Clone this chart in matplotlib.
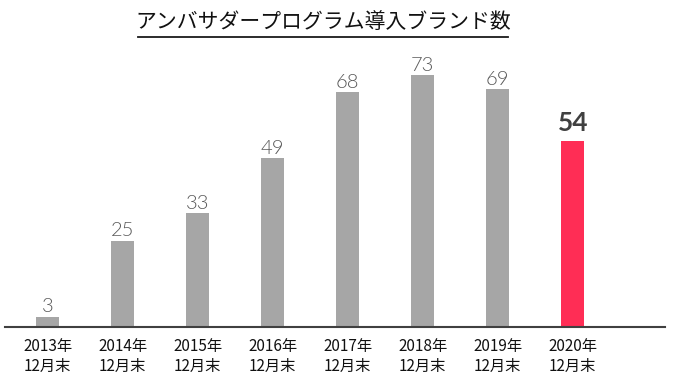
import matplotlib.pyplot as plt

plt.rcParams['font.family'] = ['Noto Sans CJK JP', 'DejaVu Sans']

# データ
years = ['2013年', '2014年', '2015年', '2016年', '2017年', '2018年', '2019年', '2020年']
brands = [3, 25, 33, 49, 68, 73, 69, 54]
colors = ['#A6A6A6'] * 7 + ['#FF2D55']

W, H = 673, 386
fig = plt.figure(figsize=(W / 100, H / 100), dpi=100)
ax = fig.add_axes([5 / W, (H - 327) / H, 660 / W, (327 - 45) / H])

x = list(range(len(years)))
ax.bar(x, brands, width=0.31, color=colors, zorder=2)

ax.set_xlim(-0.567, 8.23)
ax.set_ylim(0, (327 - 45) / 3.45)

# 値ラベル
for i, v in enumerate(brands):
    if i == len(brands) - 1:
        ax.annotate(str(v), (i, v), xytext=(0, 4), textcoords='offset points',
                    ha='center', va='bottom', fontsize=19, fontweight='bold',
                    color='#404040', family=['Lato', 'DejaVu Sans'])
    else:
        ax.annotate(str(v), (i, v), xytext=(0, 1), textcoords='offset points',
                    ha='center', va='bottom', fontsize=14.5, fontweight=300,
                    color='#595959', family=['Lato', 'DejaVu Sans'])

for s in ['top', 'right', 'left']:
    ax.spines[s].set_visible(False)
ax.spines['bottom'].set_color('#404040')
ax.spines['bottom'].set_linewidth(1.5)
ax.set_yticks([])
ax.set_xticks(x)
ax.set_xticklabels([y + '\n12月末' for y in years], fontsize=11, color='#111111',
                   linespacing=1.25)
ax.tick_params(axis='x', length=0, pad=8)

fig.text(323 / W, 1 - 22 / H, 'アンバサダープログラム導入ブランド数', ha='center', va='center',
         fontsize=15, color='#111111')
fig.add_artist(plt.Line2D([138 / W, 508 / W], [1 - 37 / H, 1 - 37 / H],
                          color='#1a1a1a', lw=1.3))

fig.savefig('out.png', dpi=100)
